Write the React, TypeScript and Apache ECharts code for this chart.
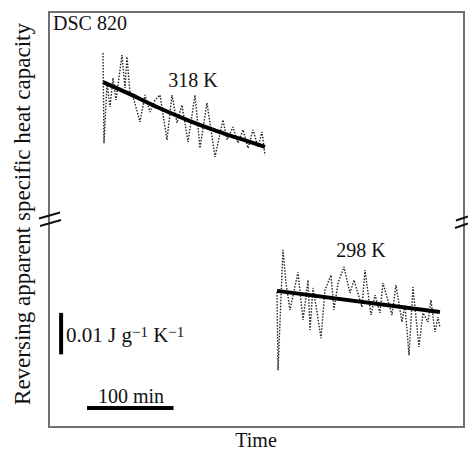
import React, { useEffect, useRef } from "react";
import * as echarts from "echarts";

// Time in min, values in mJ g^-1 K^-1 (relative, broken axis)
const time318 = [62.5, 63.6, 67.1, 70.6, 74.0, 77.5, 84.4, 87.9, 90.2, 93.7, 98.3, 105.2, 111.0, 116.8, 122.6, 128.4, 136.5, 142.3, 148.0, 153.8, 160.8, 168.9, 174.6, 182.7, 192.0, 201.2, 205.9, 212.8, 218.6, 224.4, 230.2, 235.9, 241.7, 246.4, 249.8];
const cp318 = [90.1, 68.4, 82.9, 77.1, 84.1, 78.8, 89.6, 81.7, 89.2, 80.5, 78.8, 73.5, 80.0, 75.9, 78.8, 80.0, 69.2, 80.0, 73.3, 77.6, 68.7, 80.0, 67.2, 78.1, 65.1, 74.0, 69.2, 72.3, 68.4, 71.6, 67.2, 71.6, 67.5, 71.1, 65.5];
const fitTime318 = [62.5, 93.7, 124.9, 163.1, 201.2, 249.8];
const fitCp318 = [83.1, 80.2, 77.1, 73.7, 70.8, 67.5];

const time298 = [263.7, 264.9, 270.6, 274.1, 278.7, 288.0, 293.8, 299.6, 301.9, 305.3, 310.0, 314.6, 319.2, 326.2, 329.6, 334.3, 341.2, 348.1, 352.8, 362.0, 365.5, 372.4, 377.1, 382.8, 386.3, 396.7, 401.3, 408.3, 411.7, 416.4, 421.0, 427.9, 432.6, 438.4, 441.8, 446.4, 449.9, 452.2];
const cp298 = [32.5, 13.7, 42.7, 34.7, 28.2, 37.3, 25.8, 35.4, 23.4, 33.5, 27.7, 21.4, 33.0, 36.6, 28.2, 34.7, 38.6, 32.3, 35.4, 28.9, 37.8, 27.0, 31.8, 27.5, 34.7, 27.0, 34.2, 25.3, 29.4, 17.3, 33.7, 19.3, 27.5, 25.3, 30.6, 22.9, 26.5, 23.9];
const fitTime298 = [263.7, 452.2];
const fitCp298 = [32.8, 27.7];

// scale bars: 0.01 J g^-1 K^-1 = 10 units; 100 min
const cpBarTime = [14, 14];
const cpBarValue = [27.5, 17.5];
const timeBarTime = [44, 144];
const timeBarValue = [4.6, 4.6];

const labelDSC = "DSC 820";
const label318 = "318 K";
const label298 = "298 K";
const yTitle = "Reversing apparent specific heat capacity";
const xTitle = "Time";
const timeBarLabel = "100 min";

const zip = (a: number[], b: number[]) => a.map((v, i) => [v, b[i]]);
const FONT = '"Liberation Serif", "Times New Roman", serif';

export default function App() {
  const ref = useRef<HTMLDivElement>(null);
  useEffect(() => {
    document.body.style.margin = "0";
    const chart = echarts.init(ref.current!, null, { renderer: "svg" });
    const breakLine = (x1: number, y1: number, x2: number, y2: number) => ({
      type: "line",
      shape: { x1, y1, x2, y2 },
      style: { stroke: "#111", lineWidth: 2 },
      z: 100,
    });
    const noise = { color: "#222", width: 1.4, type: [1.5, 1.5] };
    chart.setOption({
      animation: false,
      backgroundColor: "#fff",
      grid: { left: 49, top: 12, width: 415, height: 415, show: true, borderColor: "#707070", borderWidth: 2, backgroundColor: "transparent" },
      xAxis: { type: "value", min: 0, max: 480, show: false },
      yAxis: { type: "value", min: 0, max: 100, show: false },
      series: [
        { type: "line", data: zip(time318, cp318), showSymbol: false, lineStyle: noise, z: 2 },
        { type: "line", data: zip(fitTime318, fitCp318), smooth: 0.3, showSymbol: false, lineStyle: { color: "#000", width: 4 }, z: 3 },
        { type: "line", data: zip(time298, cp298), showSymbol: false, lineStyle: noise, z: 2 },
        { type: "line", data: zip(fitTime298, fitCp298), showSymbol: false, lineStyle: { color: "#000", width: 4 }, z: 3 },
        { type: "line", data: zip(cpBarTime, cpBarValue), showSymbol: false, lineStyle: { color: "#000", width: 4 }, z: 3 },
        { type: "line", data: zip(timeBarTime, timeBarValue), showSymbol: false, lineStyle: { color: "#000", width: 4 }, z: 3 },
      ],
      graphic: [
        breakLine(39, 218.5, 60, 212.5),
        breakLine(40, 226, 61, 220),
        breakLine(456, 220.5, 468, 216.5),
        breakLine(455, 228, 468, 223.5),
        { type: "text", x: 53, y: 23, style: { text: labelDSC, font: `20px ${FONT}`, fill: "#111", align: "left", verticalAlign: "middle" } },
        { type: "text", x: 193, y: 80, style: { text: label318, font: `20px ${FONT}`, fill: "#111", align: "center", verticalAlign: "middle" } },
        { type: "text", x: 361, y: 250, style: { text: label298, font: `20px ${FONT}`, fill: "#111", align: "center", verticalAlign: "middle" } },
        { type: "text", x: 131, y: 396, style: { text: timeBarLabel, font: `20px ${FONT}`, fill: "#111", align: "center", verticalAlign: "middle" } },
        {
          type: "text", x: 66, y: 335,
          style: {
            text: "0.01 J g{s|−1} K{s|−1}",
            font: `21px ${FONT}`, fill: "#111", align: "left", verticalAlign: "middle",
            rich: { s: { fontSize: 15, fontFamily: FONT, verticalAlign: "top", lineHeight: 13, fill: "#111" } },
          },
        },
        { type: "text", x: 256, y: 440, style: { text: xTitle, font: `20px ${FONT}`, fill: "#111", align: "center", verticalAlign: "middle" } },
        { type: "text", x: 22, y: 214, rotation: Math.PI / 2, style: { text: yTitle, font: `23px ${FONT}`, fill: "#111", align: "center", verticalAlign: "middle" } },
      ],
    });
    return () => chart.dispose();
  }, []);
  return <div ref={ref} style={{ position: "fixed", left: 0, top: 0, width: 468, height: 451 }} />;
}
